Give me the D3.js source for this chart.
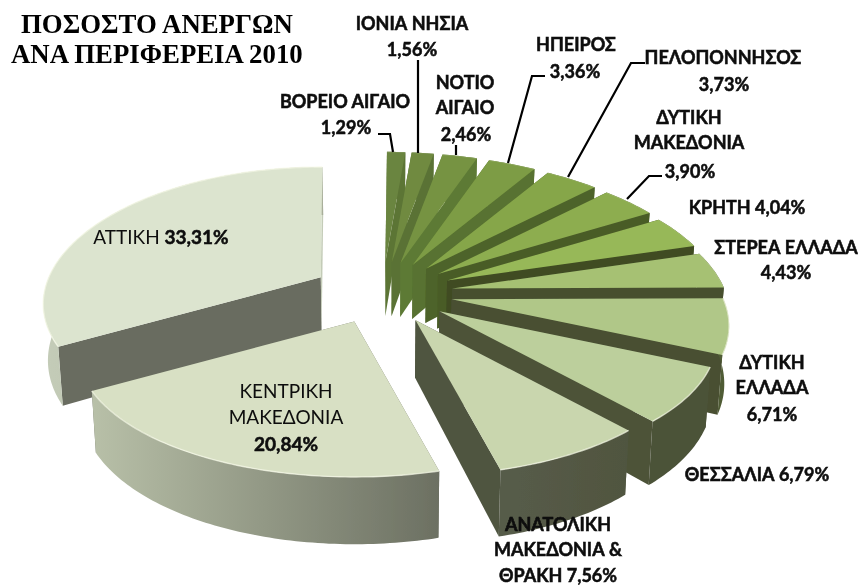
<!DOCTYPE html>
<html><head><meta charset="utf-8">
<script src="https://cdn.jsdelivr.net/npm/d3@7"></script>
<style>html,body{margin:0;background:#fff}svg{display:block}</style>
</head><body><svg id="c" width="858" height="588"></svg>
<script>
// ---- data ----
const regions = ["ΒΟΡΕΙΟ ΑΙΓΑΙΟ","ΙΟΝΙΑ ΝΗΣΙΑ","ΝΟΤΙΟ ΑΙΓΑΙΟ","ΗΠΕΙΡΟΣ","ΠΕΛΟΠΟΝΝΗΣΟΣ","ΔΥΤΙΚΗ ΜΑΚΕΔΟΝΙΑ","ΚΡΗΤΗ","ΣΤΕΡΕΑ ΕΛΛΑΔΑ","ΔΥΤΙΚΗ ΕΛΛΑΔΑ","ΘΕΣΣΑΛΙΑ","ΑΝΑΤΟΛΙΚΗ ΜΑΚΕΔΟΝΙΑ & ΘΡΑΚΗ","ΚΕΝΤΡΙΚΗ ΜΑΚΕΔΟΝΙΑ","ΑΤΤΙΚΗ"];
const shares = [1.29,1.56,2.46,3.36,3.73,3.90,4.04,4.43,6.71,6.79,7.56,20.84,33.31];
const titleLines = ["ΠΟΣΟΣΤΟ ΑΝΕΡΓΩΝ","ΑΝΑ ΠΕΡΙΦΕΡΕΙΑ 2010"];
// ---- styles ----
const topColors  = ["#6b8540","#6f8a40","#769343","#7d9c45","#86a64a","#8dad50","#97b858","#a6c173","#b0c788","#bccf9c","#c9d6ae","#d8e0c4","#dce4cf"];
const faceColors = ["#5c7436","#5a7234","#5d7a35","#587230","#4e642a","#4a5c28","#3f4c22","#46502f","#484f32","#4d5339","#4f5540","#6c7062","#696c60"];
const wallLeft   = ["#5c7436","#5a7234","#5d7a35","#587230","#4e642a","#4a5c28","#3f4c22","#46502f","#505b34","#4c5239","#575c4a","#b8c0a8","#c4ccb8"];
const wallRight  = ["#5c7436","#5a7234","#5d7a35","#587230","#4e642a","#4a5c28","#3f4c22","#46502f","#505b34","#4c5239","#50553f","#6c7062","#a8ae9a"];
// ---- geometry ----
const cx=382, cy=293, Rx=272, Ry=129, kx=0.20, ky=0.17, explodeX=71, explodeY=31, taper=0.014;
const rot = 0.4*Math.PI/180;
const depthAt = d3.scaleLinear().domain([152,473]).range([47,67]);
const svg = d3.select("#c");
const defs = svg.append("defs");
defs.append("filter").attr("id","soft").append("feGaussianBlur").attr("stdDeviation",0.6);
defs.append("filter").attr("id","softT").append("feGaussianBlur").attr("stdDeviation",0.4);

const pie = d3.pie().sort(null).startAngle(rot).endAngle(rot+2*Math.PI);
const slices = pie(shares).map((d,i)=>({...d,i}));
const line = d3.line().curve(d3.curveLinear);
const colorTop = d3.scaleOrdinal(regions, topColors);

function projector(s){
  const mid=(s.startAngle+s.endAngle)/2;
  const ax=cx+explodeX*Math.sin(mid), ay=cy-explodeY*Math.cos(mid);
  return (theta,r,h)=>{
    const sx=Math.sin(theta)*r, v=-Math.cos(theta)*r;
    const x=ax+Rx*sx/(1-kx*v), y=ay+Ry*v/(1-ky*v);
    return [cx+(x-cx)*(1-taper*h), y+h*depthAt(y)];
  };
}
const order = slices.slice().sort((a,b)=>
  -Math.cos((a.startAngle+a.endAngle)/2)+Math.cos((b.startAngle+b.endAngle)/2));
const g = svg.append("g").attr("filter","url(#soft)");
order.forEach(s=>{
  const P=projector(s), n=Math.max(6,Math.ceil((s.endAngle-s.startAngle)*60));
  const ths=d3.range(n+1).map(j=>s.startAngle+(s.endAngle-s.startAngle)*j/n);
  const arcTop=ths.map(t=>P(t,1,0)), arcBot=ths.map(t=>P(t,1,1));
  const xs=arcTop.concat(arcBot).map(p=>p[0]);
  const id="w"+s.i;
  const grad=defs.append("linearGradient").attr("id",id).attr("gradientUnits","userSpaceOnUse")
    .attr("x1",d3.min(xs)).attr("x2",d3.max(xs)).attr("y1",0).attr("y2",0);
  grad.append("stop").attr("offset",0).attr("stop-color",wallLeft[s.i]);
  grad.append("stop").attr("offset",1).attr("stop-color",wallRight[s.i]);
  const sg=g.append("g");
  const apexT=P(0,0,0), apexB=P(0,0,1);
  sg.append("path").attr("d",line([apexT,P(s.startAngle,1,0),P(s.startAngle,1,1),apexB])+"Z").attr("fill",faceColors[s.i]);
  sg.append("path").attr("d",line([apexT,P(s.endAngle,1,0),P(s.endAngle,1,1),apexB])+"Z")
    .attr("fill",s.i===12?"#c4ccb8":faceColors[s.i]);
  sg.append("path").attr("d",line(arcTop.concat(arcBot.slice().reverse()))+"Z").attr("fill",`url(#${id})`);
  sg.append("path").attr("d",line([apexT].concat(arcTop))+"Z").attr("fill",colorTop(regions[s.i]));
  sg.append("path").attr("d",line(arcTop)).attr("fill","none").attr("stroke","#f6f9e8").attr("stroke-opacity",s.i>7?0.7:0.15).attr("stroke-width",1.4);
});

// ---- annotations ----
const labels = [
 {x:345,y:108,w:[["ΒΟΡΕΙΟ ΑΙΓΑΙΟ"]]},
 {x:346,y:134,w:[["1,29%"]]},
 {x:412,y:30,w:[["ΙΟΝΙΑ ΝΗΣΙΑ"]]},
 {x:412,y:56,w:[["1,56%"]]},
 {x:465,y:89,w:[["ΝΟΤΙΟ"]]},
 {x:465,y:114,w:[["ΑΙΓΑΙΟ"]]},
 {x:466,y:141,w:[["2,46%"]]},
 {x:576,y:51,w:[["ΗΠΕΙΡΟΣ"]]},
 {x:575,y:78,w:[["3,36%"]]},
 {x:723,y:64,w:[["ΠΕΛΟΠΟΝΝΗΣΟΣ"]]},
 {x:724,y:91,w:[["3,73%"]]},
 {x:689,y:124,w:[["ΔΥΤΙΚΗ"]]},
 {x:689,y:149,w:[["ΜΑΚΕΔΟΝΙΑ"]]},
 {x:690,y:178,w:[["3,90%"]]},
 {x:747,y:214,w:[["ΚΡΗΤΗ 4,04%"]]},
 {x:786,y:254,w:[["ΣΤΕΡΕΑ ΕΛΛΑΔΑ"]]},
 {x:786,y:279,w:[["4,43%"]]},
 {x:772,y:369,w:[["ΔΥΤΙΚΗ"]]},
 {x:772,y:394,w:[["ΕΛΛΑΔΑ"]]},
 {x:772,y:421,w:[["6,71%"]]},
 {x:757,y:481,w:[["ΘΕΣΣΑΛΙΑ 6,79%"]]},
 {x:558,y:531,w:[["ΑΝΑΤΟΛΙΚΗ"]]},
 {x:558,y:556,w:[["ΜΑΚΕΔΟΝΙΑ &"]]},
 {x:558,y:582,w:[["ΘΡΑΚΗ 7,56%"]]},
 {x:161,y:244,size:19,w:[["ΑΤΤΙΚΗ ","400"],["33,31%","700"]]},
 {x:286,y:398,size:19,w:[["ΚΕΝΤΡΙΚΗ","400"]]},
 {x:286,y:424,size:19,w:[["ΜΑΚΕΔΟΝΙΑ","400"]]},
 {x:286,y:451,size:19,w:[["20,84%","700"]]}
];
const leaders = [
 [[378,134],[390,134],[393,152]],
 [[418,60],[418,153]],
 [[456,145],[456,155]],
 [[545,76],[532,76],[508,163]],
 [[645,63],[631,63],[568,177]],
 [[662,176],[649,176],[627,199]]
];
const lg=svg.append("g").attr("filter","url(#softT)");
leaders.forEach(p=>lg.append("path").attr("d",line(p)).attr("fill","none").attr("stroke","#000").attr("stroke-width",2.2));

const tg=svg.append("g").attr("filter","url(#softT)");
labels.forEach(l=>{
  const t=tg.append("text").attr("x",l.x).attr("y",l.y).attr("text-anchor","middle")
    .attr("font-family","Lato, 'Open Sans', sans-serif").attr("font-size",l.size||18).attr("fill","#0a0a0a");
  l.w.forEach(w=>t.append("tspan").attr("font-weight",w[1]||"700")
     .attr("stroke","#0a0a0a").attr("stroke-width",(w[1]||"700")==="700"?0.5:0).text(w[0]));
});
svg.append("g").attr("filter","url(#softT)").selectAll("text").data(titleLines).join("text")
  .attr("x",(d,i)=>i?11:21).attr("y",(d,i)=>i?63:33)
  .attr("font-family","'Liberation Serif',serif").attr("font-weight",700).attr("font-size",26.8)
  .attr("fill","#000").text(d=>d);
</script></body></html>
